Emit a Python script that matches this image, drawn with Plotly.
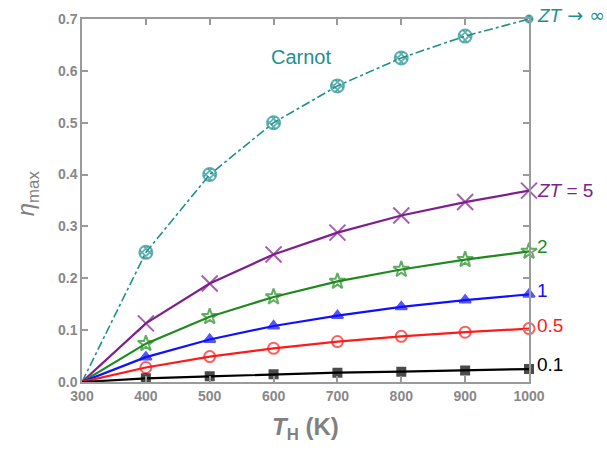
import plotly.graph_objects as go

T_H = [300, 400, 500, 600, 700, 800, 900, 1000]
carnot = [0.0, 0.250, 0.400, 0.500, 0.571, 0.625, 0.667, 0.700]
zt5 = [0.0, 0.113, 0.190, 0.246, 0.288, 0.321, 0.347, 0.369]
zt2 = [0.0, 0.074, 0.126, 0.164, 0.194, 0.217, 0.236, 0.252]
zt1 = [0.0, 0.048, 0.082, 0.108, 0.128, 0.145, 0.158, 0.169]
zt05 = [0.0, 0.028, 0.049, 0.065, 0.078, 0.088, 0.096, 0.103]
zt01 = [0.0, 0.007, 0.011, 0.015, 0.018, 0.020, 0.022, 0.025]

x_ticks = [300, 400, 500, 600, 700, 800, 900, 1000]
y_ticks = [0.0, 0.1, 0.2, 0.3, 0.4, 0.5, 0.6, 0.7]

TEAL = "#1f8f8f"
PURPLE = "#7d1f8c"
GREEN = "#1f8a1f"
BLUE = "#1010ff"
RED = "#ff1a1a"
BLACK = "#000000"
GREY = "#9a9a9a"

fig = go.Figure()

def sizes(n, s, last=None):
    out = [0] + [s] * (n - 1)
    if last is not None:
        out[-1] = last
    return out

series = [
    (carnot, TEAL, "circle-open", 13, "dashdot", 1.6),
    (zt5, PURPLE, "x-thin-open", 16, "solid", 2.2),
    (zt2, GREEN, "star-open", 12, "solid", 2.2),
    (zt1, BLUE, "triangle-up", 10, "solid", 2.2),
    (zt05, RED, "circle-open", 11, "solid", 2.2),
    (zt01, BLACK, "square", 8, "solid", 2.2),
]
for i, (y, c, sym, s, dash, w) in enumerate(series):
    fig.add_trace(go.Scatter(
        x=T_H, y=y, mode="lines+markers", cliponaxis=False,
        line=dict(color=c, width=w, dash=dash),
        marker=dict(symbol=sym, size=sizes(len(y), s, 7 if i == 0 else None), color=c,
                    line=dict(color=c, width=2)),
        showlegend=False,
    ))
    if i == 0:
        fig.add_trace(go.Scatter(
            x=T_H, y=y, mode="markers", cliponaxis=False,
            marker=dict(symbol="hash-open", angle=45, size=sizes(len(y), 11, 7), color=c,
                        line=dict(color=c, width=1.8)),
            showlegend=False,
        ))

ann_font = "Arial, Liberation Sans, sans-serif"
fig.add_annotation(x=1.0, xref="paper", y=1.0, yref="paper",
                   text="<i>ZT</i><span style='font-family:DejaVu Sans'> → ∞</span>",
                   showarrow=False, xanchor="left", yanchor="middle",
                   xshift=6, yshift=4, font=dict(family=ann_font, size=19, color=TEAL))
labels = [
    (0.369, "<i>ZT</i> = 5", PURPLE),
    (0.262, "2", GREEN),
    (0.176, "1", BLUE),
    (0.108, "0.5", RED),
    (0.033, "0.1", BLACK),
]
for yv, txt, c in labels:
    fig.add_annotation(x=1.0, xref="paper", y=yv, yref="y", text=txt,
                       showarrow=False, xanchor="left", yanchor="middle",
                       xshift=6, font=dict(family=ann_font, size=19, color=c))

fig.add_annotation(x=643, y=0.627, text="Carnot", showarrow=False,
                   xanchor="center", yanchor="middle",
                   font=dict(family=ann_font, size=20, color=TEAL))
fig.add_annotation(x=-0.123, xref="paper", y=0.52, yref="paper",
                   xanchor="center", yanchor="middle",
                   text="<i>η</i><sub>max</sub>", textangle=-90, showarrow=False,
                   font=dict(family=ann_font, size=24, color="#808080"))
fig.add_annotation(x=0.5, xref="paper", y=-0.127, yref="paper",
                   xanchor="center", yanchor="middle",
                   text="<i>T</i><sub>H</sub> (K)", showarrow=False,
                   font=dict(family=ann_font, size=24, color="#808080", weight="bold"))

axis_common = dict(showline=True, linecolor=GREY, linewidth=1.5, mirror="ticks",
                   ticks="inside", ticklen=6, tickwidth=1.5, tickcolor=GREY,
                   showgrid=False, zeroline=False,
                   tickfont=dict(family=ann_font, size=14, color="#888888", weight="bold"))
fig.update_xaxes(range=[300, 1000], tickvals=x_ticks, **axis_common)
fig.update_yaxes(range=[0, 0.7], tickvals=y_ticks, tickformat=".1f", **axis_common)

fig.update_layout(width=607, height=451, plot_bgcolor="white", paper_bgcolor="white",
                  margin=dict(l=82, r=78, t=19, b=69))
fig.write_html("out.html")
